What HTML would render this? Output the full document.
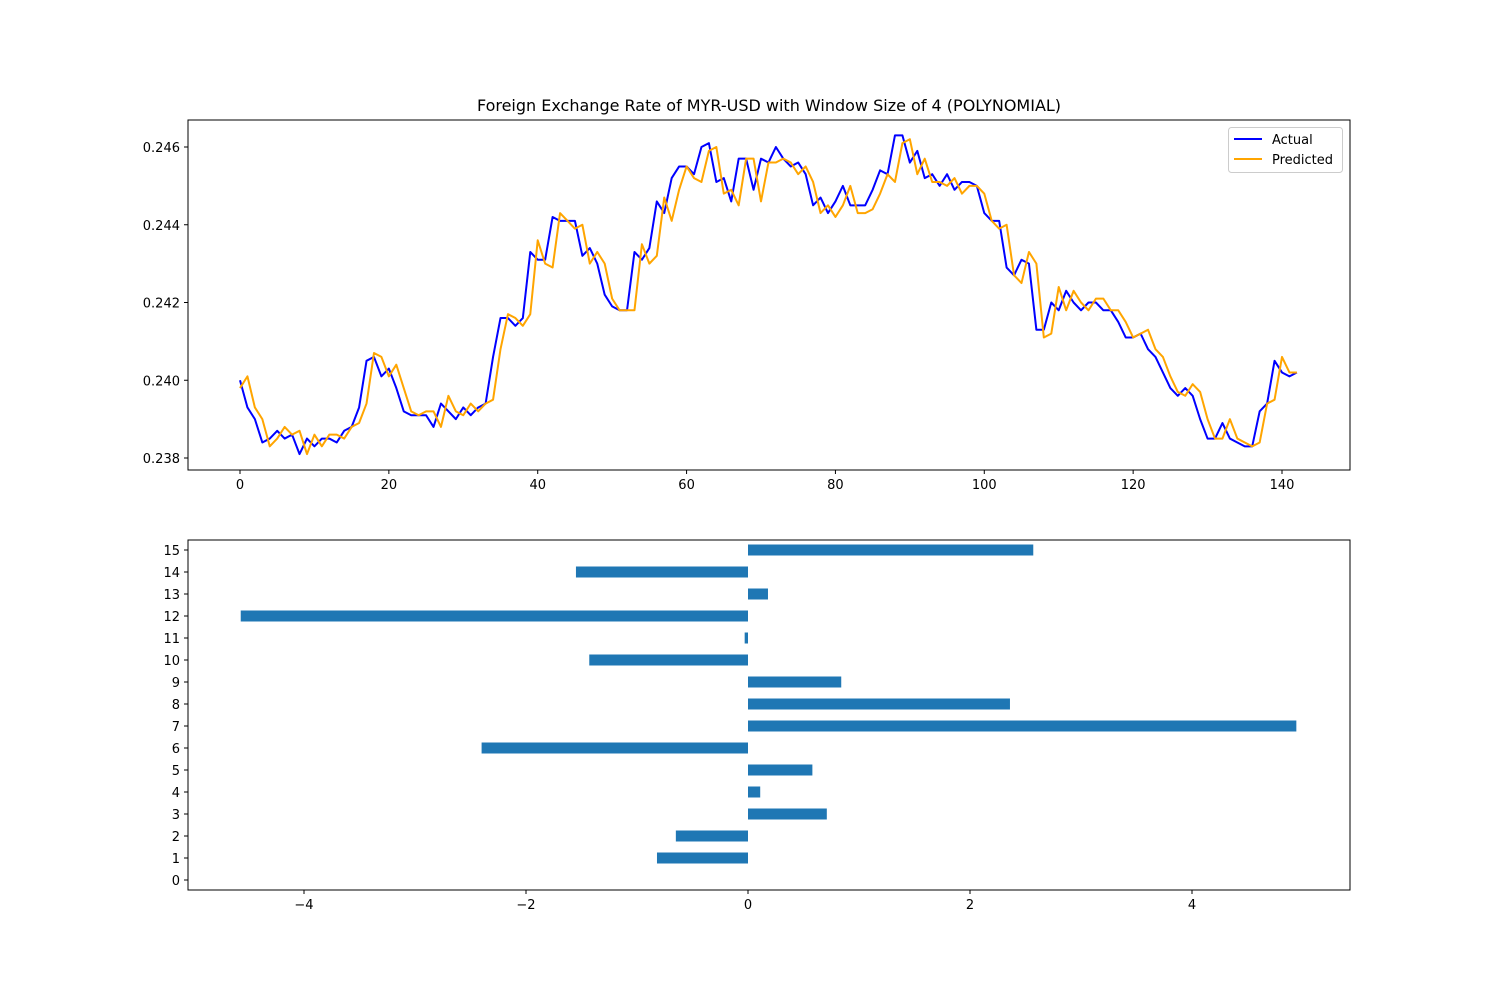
<!DOCTYPE html>
<html><head><meta charset="utf-8"><style>
body{margin:0;background:#fff;font-family:"Liberation Sans","DejaVu Sans",sans-serif}
svg text{font-family:"DejaVu Sans","Liberation Sans",sans-serif;font-size:13px;fill:#000}
</style></head><body>
<svg id="c" width="1500" height="1000"></svg>
<script>
const xTicksTop=[0,20,40,60,80,100,120,140];
const yTicksTop=[0.238,0.240,0.242,0.244,0.246];
const actual=[0.2400,0.2393,0.2390,0.2384,0.2385,0.2387,0.2385,0.2386,0.2381,0.2385,0.2383,0.2385,0.2385,0.2384,0.2387,0.2388,0.2393,0.2405,0.2406,0.2401,0.2403,0.2398,0.2392,0.2391,0.2391,0.2391,0.2388,0.2394,0.2392,0.2390,0.2393,0.2391,0.2393,0.2394,0.2406,0.2416,0.2416,0.2414,0.2416,0.2433,0.2431,0.2431,0.2442,0.2441,0.2441,0.2441,0.2432,0.2434,0.2430,0.2422,0.2419,0.2418,0.2418,0.2433,0.2431,0.2434,0.2446,0.2443,0.2452,0.2455,0.2455,0.2453,0.2460,0.2461,0.2451,0.2452,0.2446,0.2457,0.2457,0.2449,0.2457,0.2456,0.2460,0.2457,0.2455,0.2456,0.2453,0.2445,0.2447,0.2443,0.2446,0.2450,0.2445,0.2445,0.2445,0.2449,0.2454,0.2453,0.2463,0.2463,0.2456,0.2459,0.2452,0.2453,0.2450,0.2453,0.2449,0.2451,0.2451,0.2450,0.2443,0.2441,0.2441,0.2429,0.2427,0.2431,0.2430,0.2413,0.2413,0.2420,0.2418,0.2423,0.2420,0.2418,0.2420,0.2420,0.2418,0.2418,0.2415,0.2411,0.2411,0.2412,0.2408,0.2406,0.2402,0.2398,0.2396,0.2398,0.2396,0.2390,0.2385,0.2385,0.2389,0.2385,0.2384,0.2383,0.2383,0.2392,0.2394,0.2405,0.2402,0.2401,0.2402];
const predicted=[0.2398,0.2401,0.2393,0.2390,0.2383,0.2385,0.2388,0.2386,0.2387,0.2381,0.2386,0.2383,0.2386,0.2386,0.2385,0.2388,0.2389,0.2394,0.2407,0.2406,0.2401,0.2404,0.2398,0.2392,0.2391,0.2392,0.2392,0.2388,0.2396,0.2392,0.2391,0.2394,0.2392,0.2394,0.2395,0.2408,0.2417,0.2416,0.2414,0.2417,0.2436,0.2430,0.2429,0.2443,0.2441,0.2439,0.2440,0.2430,0.2433,0.2430,0.2421,0.2418,0.2418,0.2418,0.2435,0.2430,0.2432,0.2447,0.2441,0.2449,0.2455,0.2452,0.2451,0.2459,0.2460,0.2448,0.2449,0.2445,0.2457,0.2457,0.2446,0.2456,0.2456,0.2457,0.2456,0.2453,0.2455,0.2451,0.2443,0.2445,0.2442,0.2445,0.2450,0.2443,0.2443,0.2444,0.2448,0.2453,0.2451,0.2461,0.2462,0.2453,0.2457,0.2451,0.2451,0.2450,0.2452,0.2448,0.2450,0.2450,0.2448,0.2441,0.2439,0.2440,0.2427,0.2425,0.2433,0.2430,0.2411,0.2412,0.2424,0.2418,0.2423,0.2420,0.2418,0.2421,0.2421,0.2418,0.2418,0.2415,0.2411,0.2412,0.2413,0.2408,0.2406,0.2401,0.2397,0.2396,0.2399,0.2397,0.2390,0.2385,0.2385,0.2390,0.2385,0.2384,0.2383,0.2384,0.2394,0.2395,0.2406,0.2402,0.2402];
const barCats=[0,1,2,3,4,5,6,7,8,9,10,11,12,13,14,15];
const barVals=[0,-0.82,-0.65,0.71,0.11,0.58,-2.40,4.94,2.36,0.84,-1.43,-0.03,-4.57,0.18,-1.55,2.57];
const xTicksBot=[-4,-2,0,2,4];

const svg=document.getElementById('c');
const NS='http://www.w3.org/2000/svg';
function mk(tag,attrs,parent){const e=document.createElementNS(NS,tag);for(const k in attrs)e.setAttribute(k,attrs[k]);(parent||svg).appendChild(e);return e;}
function txt(s,x,y,anchor,parent){const t=mk('text',{x:x,y:y,'text-anchor':anchor},parent);t.textContent=s;return t;}

const L=188,R=1350,T=120,B=470;
const xs=i=>240+(1282-240)*i/140;
const ys=v=>458-(v-0.238)*38875;
const gTop=mk('g',{});


const tt=txt('Foreign Exchange Rate of MYR-USD with Window Size of 4 (POLYNOMIAL)',769,111,'middle',gTop);
tt.setAttribute('style','font-size:16px');


function line(arr,color,name){
  const p=mk('polyline',{points:arr.map((v,i)=>xs(i)+','+ys(v)).join(' '),fill:'none',stroke:color,'stroke-width':2,'stroke-linejoin':'round'},gTop);
  
  
}
line(actual,'#0000ff','actual-line');
line(predicted,'#ffa500','predicted-line');
mk('rect',{x:L,y:T,width:R-L,height:B-T,fill:'none',stroke:'#000','stroke-width':1},gTop);
xTicksTop.forEach(v=>{const x=xs(v);mk('line',{x1:x,x2:x,y1:B,y2:B+4,stroke:'#000'},gTop);const t=txt(String(v),x,B+19,'middle',gTop);

});
yTicksTop.forEach(v=>{const y=ys(v);mk('line',{x1:L-4,x2:L,y1:y,y2:y,stroke:'#000'},gTop);const t=txt(v.toFixed(3),L-8,y+5,'end',gTop);

});
const lg=mk('g',{},gTop);


mk('rect',{x:1228.5,y:127.5,width:114,height:45,rx:3,fill:'#fff',stroke:'#ccc'},lg);
mk('line',{x1:1234,x2:1262,y1:139,y2:139,stroke:'#0000ff','stroke-width':2},lg);
mk('line',{x1:1234,x2:1262,y1:159,y2:159,stroke:'#ffa500','stroke-width':2},lg);
txt('Actual',1272,144,'start',lg);
txt('Predicted',1272,164,'start',lg);

const T2=540,B2=890;
const bx=v=>748+v*111;
const by=c=>880-c*22;
const gBot=mk('g',{});


barCats.forEach((c,i)=>{const v=barVals[i];const x0=Math.min(bx(0),bx(v));const w=Math.abs(bx(v)-bx(0));
const r=mk('rect',{x:x0,y:by(c)-5.5,width:w,height:11,fill:'#1f77b4'},gBot);

});
mk('rect',{x:L,y:T2,width:R-L,height:B2-T2,fill:'none',stroke:'#000'},gBot);
barCats.forEach(c=>{const y=by(c);mk('line',{x1:L-4,x2:L,y1:y,y2:y,stroke:'#000'},gBot);const t=txt(String(c),L-8,y+5,'end',gBot);

});
xTicksBot.forEach(v=>{const x=bx(v);mk('line',{x1:x,x2:x,y1:B2,y2:B2+4,stroke:'#000'},gBot);const t=txt(v<0?'\u2212'+Math.abs(v):String(v),x,B2+19,'middle',gBot);

});
</script>
</body></html>
